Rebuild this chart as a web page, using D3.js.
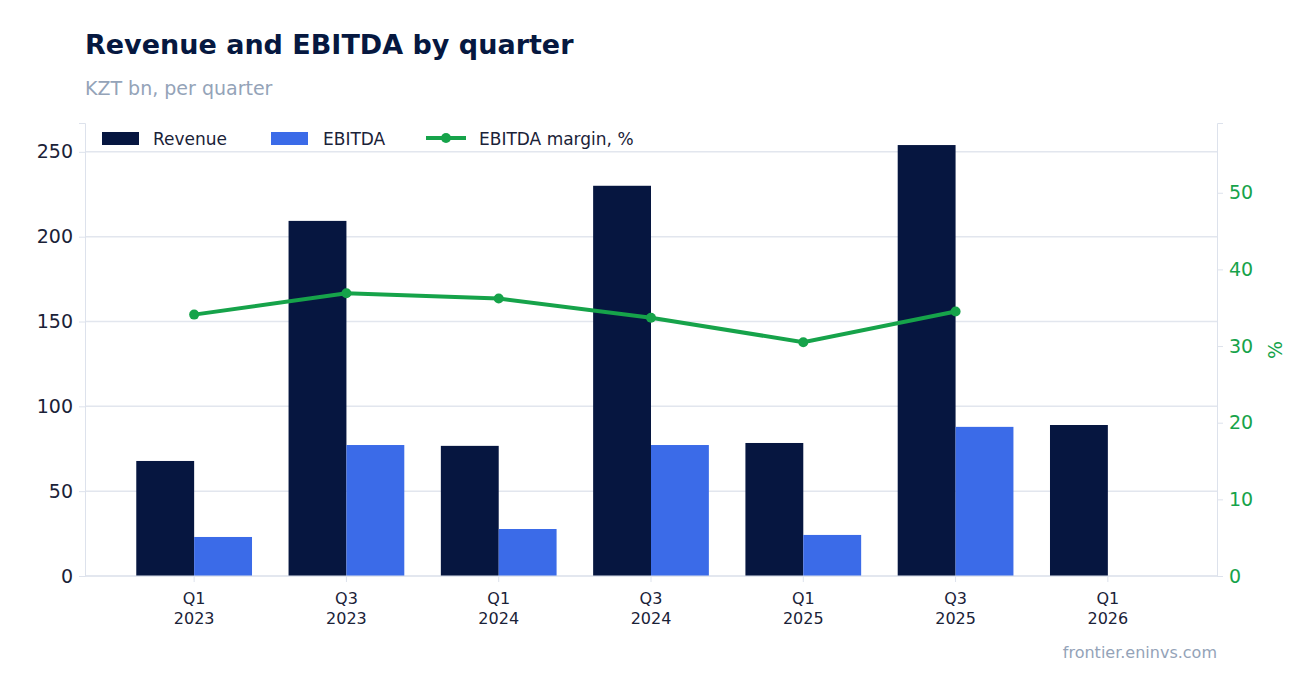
<!DOCTYPE html><html><head><meta charset="utf-8"><script src="https://cdn.jsdelivr.net/npm/d3@7"></script>
<style>body{margin:0;background:#fff;font-family:"DejaVu Sans",sans-serif}</style></head><body><svg id="c" width="1316" height="693"></svg><script>
const quarters=["Q1|2023","Q3|2023","Q1|2024","Q3|2024","Q1|2025","Q3|2025","Q1|2026"];
const revenue=[67.8,209.3,76.7,230,78.4,254,89];
const ebitda=[23,77.2,27.7,77.2,24.2,87.9,null];
const margin=[34.1,36.9,36.2,33.7,30.5,34.5,null];
const leftTicks=[0,50,100,150,200,250];
const rightTicks=[0,10,20,30,40,50];
const svg=d3.select("#c");
const L=85,R=1217,T=123,B=576;
const x=d3.scaleBand().domain(quarters).range([118,1184]).paddingInner(0.24).paddingOuter(0.12);
const y=d3.scaleLinear().domain([0,267]).range([B,T]);
const y2=d3.scaleLinear().domain([0,59.1]).range([B,T]);
const sub=d3.scaleBand().domain(["r","e"]).range([0,x.bandwidth()]);
svg.append("text").attr("x",85).attr("y",54).attr("font-size",27).attr("font-weight","bold").attr("fill","#061840").text("Revenue and EBITDA by quarter");
svg.append("text").attr("x",85).attr("y",95).attr("font-size",19).attr("fill","#94a3b8").text("KZT bn, per quarter");
svg.append("g").selectAll("line").data(leftTicks).join("line").attr("x1",L).attr("x2",R).attr("y1",d=>y(d)).attr("y2",d=>y(d)).attr("stroke","#e2e6ee").attr("stroke-width",1.5);
const g=svg.append("g");
g.selectAll(".r").data(quarters).join("rect").attr("x",d=>x(d)+sub("r")).attr("width",sub.bandwidth()).attr("y",(d,i)=>y(revenue[i])).attr("height",(d,i)=>B-y(revenue[i])).attr("fill","#061640");
g.selectAll(".e").data(quarters.filter((d,i)=>ebitda[i]!=null)).join("rect").attr("x",d=>x(d)+sub("e")).attr("width",sub.bandwidth()).attr("y",(d,i)=>y(ebitda[i])).attr("height",(d,i)=>B-y(ebitda[i])).attr("fill","#3b6be8");
const la=svg.append("g").attr("transform",`translate(${L},0)`).call(d3.axisLeft(y).tickValues(leftTicks).tickSize(6).tickPadding(6));
la.selectAll("text").attr("font-size",19).attr("fill","#1a2238").attr("font-family","DejaVu Sans");
la.selectAll("line,path").attr("stroke","#dde2ec");
const ra=svg.append("g").attr("transform",`translate(${R},0)`).call(d3.axisRight(y2).tickValues(rightTicks).tickSize(6).tickPadding(6));
ra.selectAll("text").attr("font-size",19).attr("fill","#16a34a").attr("font-family","DejaVu Sans");
ra.selectAll("line,path").attr("stroke","#dde2ec");
svg.append("text").attr("transform",`translate(1282,350) rotate(-90)`).attr("text-anchor","middle").attr("font-size",19).attr("fill","#16a34a").text("%");
const ba=svg.append("g").attr("transform",`translate(0,${B})`).call(d3.axisBottom(x).tickSize(6).tickFormat(""));
ba.selectAll("line").attr("stroke","#dde2ec");ba.select("path").attr("d",`M${L},0H${R}`).attr("stroke","#dde2ec");
ba.selectAll(".tick").each(function(d){const t=d3.select(this).append("text").attr("fill","#1a2238").attr("font-size",16).attr("text-anchor","middle").attr("font-family","DejaVu Sans");d.split("|").forEach((s,k)=>t.append("tspan").attr("x",0).attr("y",28+k*20).text(s));});
const md=quarters.map((q,i)=>({q,v:margin[i]})).filter(d=>d.v!=null);
svg.append("path").datum(md).attr("d",d3.line().x(d=>x(d.q)+x.bandwidth()/2).y(d=>y2(d.v))).attr("fill","none").attr("stroke","#16a34a").attr("stroke-width",4);
svg.selectAll(".dot").data(md).join("circle").attr("cx",d=>x(d.q)+x.bandwidth()/2).attr("cy",d=>y2(d.v)).attr("r",5).attr("fill","#16a34a");
const lg=svg.append("g").attr("font-size",17).attr("fill","#1a2238");
lg.append("rect").attr("x",102).attr("y",132).attr("width",37).attr("height",13).attr("fill","#061640");
lg.append("text").attr("x",153).attr("y",145).text("Revenue");
lg.append("rect").attr("x",271).attr("y",132).attr("width",37).attr("height",13).attr("fill","#3b6be8");
lg.append("text").attr("x",323).attr("y",145).text("EBITDA");
lg.append("line").attr("x1",426).attr("x2",466).attr("y1",138).attr("y2",138).attr("stroke","#16a34a").attr("stroke-width",4);
lg.append("circle").attr("cx",446).attr("cy",138).attr("r",5).attr("fill","#16a34a");
lg.append("text").attr("x",479).attr("y",145).text("EBITDA margin, %");
svg.append("text").attr("x",1217).attr("y",658).attr("text-anchor","end").attr("font-size",16).attr("fill","#94a3b8").text("frontier.eninvs.com");
</script></body></html>
